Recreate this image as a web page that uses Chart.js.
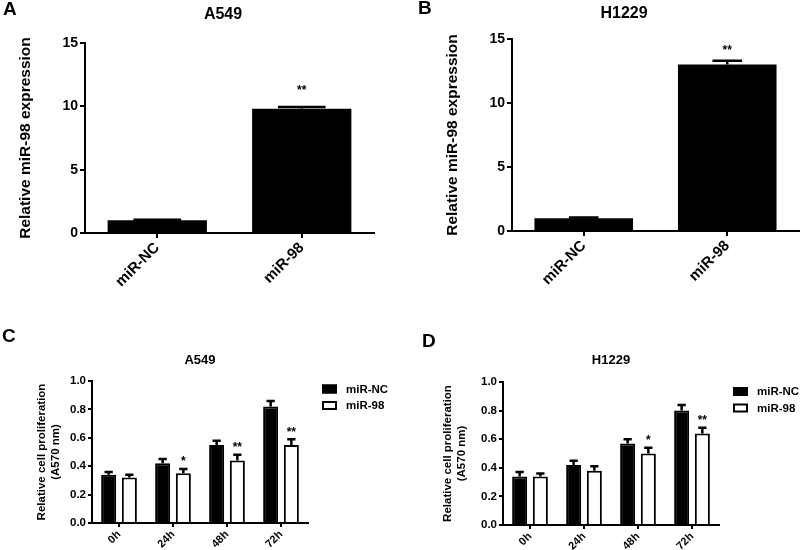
<!DOCTYPE html>
<html><head><meta charset="utf-8">
<script src="https://cdn.jsdelivr.net/npm/chart.js@4.4.1/dist/chart.umd.min.js"></script>
<style>
html,body{margin:0;padding:0;background:#fff;}
#wrap{position:relative;width:800px;height:550px;overflow:hidden;background:#fff;}
#wrap canvas{position:absolute;left:0;top:0;}
</style></head><body>
<div id="wrap">
<canvas id="cA" width="800" height="550"></canvas>
<canvas id="cB" width="800" height="550"></canvas>
<canvas id="cC" width="800" height="550"></canvas>
<canvas id="cD" width="800" height="550"></canvas>
</div>
<script>
// ---------- data ----------
const groupsAB = ['miR-NC', 'miR-98'];
const exprA549 = [1.0, 9.8];
const exprA549Err = [0.05, 0.15];
const sigA549 = ['', '**'];
const exprH1229 = [1.0, 13.0];
const exprH1229Err = [0.05, 0.3];
const sigH1229 = ['', '**'];
const exprTicks = [0, 5, 10, 15];

const timePoints = ['0h', '24h', '48h', '72h'];
const seriesNames = ['miR-NC', 'miR-98'];
const profA549NC = [0.34, 0.42, 0.55, 0.82];
const profA549NCErr = [0.02, 0.03, 0.03, 0.04];
const profA549Mi = [0.32, 0.35, 0.44, 0.55];
const profA549MiErr = [0.02, 0.03, 0.04, 0.04];
const sigProfA549 = ['', '*', '**', '**'];
const profH1229NC = [0.34, 0.42, 0.57, 0.80];
const profH1229NCErr = [0.03, 0.03, 0.03, 0.04];
const profH1229Mi = [0.34, 0.38, 0.50, 0.64];
const profH1229MiErr = [0.02, 0.03, 0.04, 0.04];
const sigProfH1229 = ['', '', '*', '**'];
const profTicks = [0, 0.2, 0.4, 0.6, 0.8, 1.0];

// ---------- helpers ----------
const FONT = "'Liberation Sans', Arial, Helvetica, sans-serif";
const f = (size) => ({ family: FONT, size: size, weight: 'bold' });

const deco = {
  id: 'deco',
  afterDatasetsDraw(chart, args, o) {
    const ctx = chart.ctx;
    const ys = chart.scales.y;
    ctx.save();
    chart.data.datasets.forEach((ds, di) => {
      const meta = chart.getDatasetMeta(di);
      meta.data.forEach((bar, i) => {
        const v = ds.data[i], e = ds.errors[i];
        const yBar = ys.getPixelForValue(v);
        const yTop = ys.getPixelForValue(v + e);
        const cw = bar.width * o.capRatio;
        ctx.strokeStyle = '#000';
        ctx.lineWidth = o.errLine;
        ctx.beginPath();
        ctx.moveTo(bar.x, yBar);
        ctx.lineTo(bar.x, yTop);
        ctx.moveTo(bar.x - cw / 2, yTop);
        ctx.lineTo(bar.x + cw / 2, yTop);
        ctx.stroke();
        const s = ds.stars ? ds.stars[i] : '';
        if (s) {
          ctx.fillStyle = '#000';
          ctx.font = 'bold ' + o.starSize + 'px ' + FONT;
          ctx.textAlign = 'center';
          ctx.textBaseline = 'middle';
          ctx.fillText(s, bar.x, yTop - o.starGap);
        }
      });
    });
    ctx.restore();
  },
  afterDraw(chart, args, o) {
    const ctx = chart.ctx;
    ctx.save();
    ctx.fillStyle = '#000';
    ctx.textBaseline = 'middle';
    ctx.textAlign = 'left';
    ctx.font = 'bold ' + o.letterSize + 'px ' + FONT;
    ctx.fillText(o.letter, o.letterX, o.letterY);
    ctx.textAlign = 'center';
    ctx.font = 'bold ' + o.titleSize + 'px ' + FONT;
    ctx.fillText(o.title, o.titleX, o.titleY);
    if (o.legend) {
      const L = o.legend;
      chart.data.datasets.forEach((ds, di) => {
        const y = L.y + di * L.pitch;
        ctx.fillStyle = ds.backgroundColor;
        ctx.fillRect(L.x, y - L.h / 2, L.w, L.h);
        ctx.strokeStyle = '#000';
        ctx.lineWidth = 2;
        ctx.strokeRect(L.x + 1, y - L.h / 2 + 1, L.w - 2, L.h - 2);
        ctx.fillStyle = '#000';
        ctx.textAlign = 'left';
        ctx.font = 'bold ' + L.size + 'px ' + FONT;
        ctx.fillText(ds.label, L.x + L.w + 9, y + 0.5);
      });
    }
    ctx.restore();
  }
};

function makeChart(id, cfg) {
  const area = cfg.area; // left,right,top,bottom of plot region
  return new Chart(document.getElementById(id), {
    type: 'bar',
    data: { labels: cfg.labels, datasets: cfg.datasets },
    options: {
      responsive: false,
      animation: false,
      events: [],
      layout: {
        autoPadding: false,
        padding: {
          left: area.left - cfg.yWidth,
          right: 800 - area.right,
          top: area.top,
          bottom: 550 - area.bottom - cfg.xHeight
        }
      },
      datasets: { bar: { categoryPercentage: cfg.catPct, barPercentage: cfg.barPct } },
      plugins: {
        legend: { display: false },
        tooltip: { enabled: false },
        deco: cfg.deco
      },
      scales: {
        x: {
          type: 'category',
          offset: true,
          grid: { offset: false, drawOnChartArea: false, drawTicks: true, tickLength: cfg.tickLen, color: '#000', lineWidth: 2 },
          border: { display: true, color: '#000', width: 2 },
          ticks: { font: f(cfg.xFont), color: '#000', minRotation: 45, maxRotation: 45, padding: 1, autoSkip: false },
          afterFit: (s) => { s.height = cfg.xHeight; }
        },
        y: {
          min: cfg.yTicks[0],
          max: cfg.yTicks[cfg.yTicks.length - 1],
          afterBuildTicks: (s) => { s.ticks = cfg.yTicks.map(v => ({ value: v })); },
          grid: { drawOnChartArea: false, drawTicks: true, tickLength: cfg.tickLen, color: '#000', lineWidth: 2 },
          border: { display: true, color: '#000', width: 2 },
          ticks: { font: f(cfg.yFont), color: '#000', padding: 2, callback: cfg.yFmt },
          title: { display: true, text: cfg.yTitle, font: f(cfg.yTitleFont), color: '#000', padding: 0 },
          afterFit: (s) => { s.width = cfg.yWidth; }
        }
      }
    },
    plugins: [deco]
  });
}

// Panel A
makeChart('cA', {
  labels: groupsAB,
  datasets: [{ label: 'A549', data: exprA549, errors: exprA549Err, stars: sigA549,
    backgroundColor: '#000', borderColor: '#000', borderWidth: 0 }],
  area: { left: 85, right: 374, top: 43, bottom: 233 },
  yWidth: 69, xHeight: 60, catPct: 1, barPct: 0.687, tickLen: 5,
  xFont: 15, yFont: 14, yTitleFont: 15.5,
  yTicks: exprTicks, yFmt: (v) => String(v),
  yTitle: 'Relative miR-98 expression',
  deco: { letter: 'A', letterX: 3, letterY: 10, letterSize: 19, title: 'A549', titleX: 223, titleY: 15, titleSize: 16,
    capRatio: 0.48, errLine: 2.5, starSize: 12, starGap: 16 }
});

// Panel B
makeChart('cB', {
  labels: groupsAB,
  datasets: [{ label: 'H1229', data: exprH1229, errors: exprH1229Err, stars: sigH1229,
    backgroundColor: '#000', borderColor: '#000', borderWidth: 0 }],
  area: { left: 512, right: 799, top: 39, bottom: 231 },
  yWidth: 69, xHeight: 60, catPct: 1, barPct: 0.687, tickLen: 5,
  xFont: 15, yFont: 14, yTitleFont: 15.5,
  yTicks: exprTicks, yFmt: (v) => String(v),
  yTitle: 'Relative miR-98 expression',
  deco: { letter: 'B', letterX: 418, letterY: 9, letterSize: 19, title: 'H1229', titleX: 624, titleY: 14, titleSize: 16,
    capRatio: 0.3, errLine: 2.5, starSize: 12, starGap: 10 }
});

// Panel C
makeChart('cC', {
  labels: timePoints,
  datasets: [
    { label: seriesNames[0], data: profA549NC, errors: profA549NCErr, stars: null,
      backgroundColor: '#000', borderColor: '#000', borderWidth: 2 },
    { label: seriesNames[1], data: profA549Mi, errors: profA549MiErr, stars: sigProfA549,
      backgroundColor: '#fff', borderColor: '#000', borderWidth: 2 }
  ],
  area: { left: 92, right: 308, top: 381, bottom: 523 },
  yWidth: 57, xHeight: 25, catPct: 0.767, barPct: 0.725, tickLen: 4,
  xFont: 11, yFont: 11.5, yTitleFont: 11.5,
  yTicks: profTicks, yFmt: (v) => Number(v).toFixed(1),
  yTitle: ['Relative cell proliferation', '(A570 nm)'],
  deco: { letter: 'C', letterX: 2, letterY: 337, letterSize: 19, title: 'A549', titleX: 200, titleY: 360, titleSize: 13,
    capRatio: 0.55, errLine: 2.5, starSize: 12, starGap: 7,
    legend: { x: 322, y: 389, pitch: 16.5, w: 15, h: 9, size: 11.5 } }
});

// Panel D
makeChart('cD', {
  labels: timePoints,
  datasets: [
    { label: seriesNames[0], data: profH1229NC, errors: profH1229NCErr, stars: null,
      backgroundColor: '#000', borderColor: '#000', borderWidth: 2 },
    { label: seriesNames[1], data: profH1229Mi, errors: profH1229MiErr, stars: sigProfH1229,
      backgroundColor: '#fff', borderColor: '#000', borderWidth: 2 }
  ],
  area: { left: 503, right: 719, top: 382, bottom: 525 },
  yWidth: 62, xHeight: 25, catPct: 0.767, barPct: 0.725, tickLen: 4,
  xFont: 11, yFont: 11.5, yTitleFont: 11.5,
  yTicks: profTicks, yFmt: (v) => Number(v).toFixed(1),
  yTitle: ['Relative cell proliferation', '(A570 nm)'],
  deco: { letter: 'D', letterX: 422, letterY: 342, letterSize: 19, title: 'H1229', titleX: 611, titleY: 360, titleSize: 13,
    capRatio: 0.55, errLine: 2.5, starSize: 12, starGap: 7,
    legend: { x: 733, y: 391.5, pitch: 16.5, w: 15, h: 9, size: 11.5 } }
});
</script>
</body></html>
